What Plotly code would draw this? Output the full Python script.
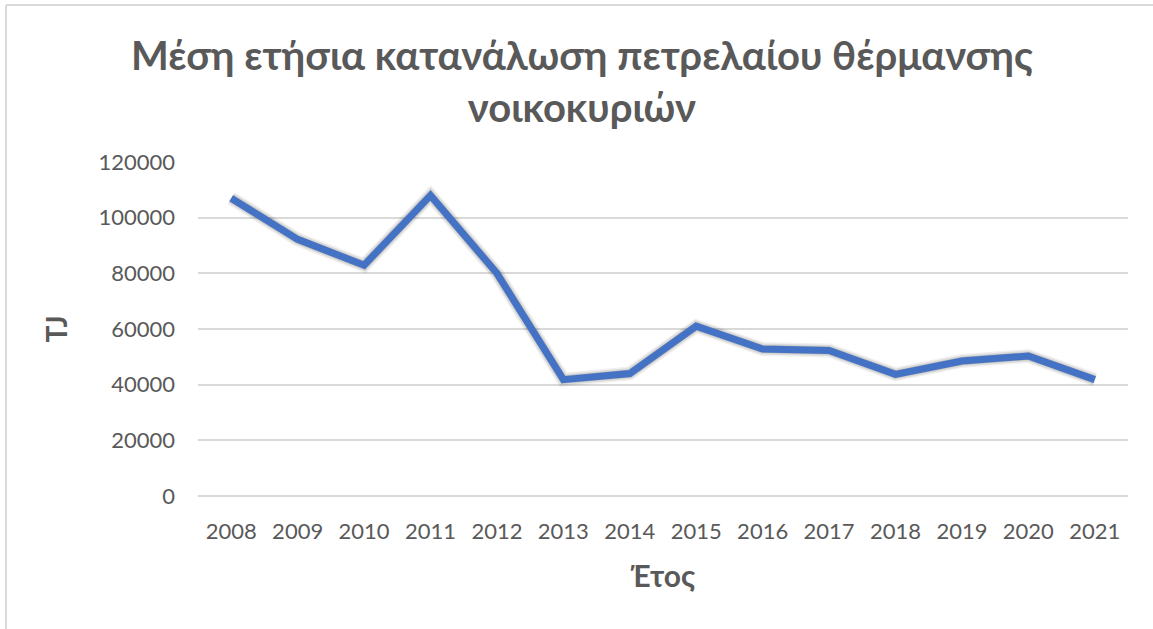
import plotly.graph_objects as go

# Average annual household heating-oil consumption (TJ)
years = ["2008", "2009", "2010", "2011", "2012", "2013", "2014",
         "2015", "2016", "2017", "2018", "2019", "2020", "2021"]
consumption_tj = [107000, 92200, 82900, 108000, 80000, 41800, 44000,
                  61000, 52800, 52300, 43700, 48500, 50300, 41800]
y_ticks = [0, 20000, 40000, 60000, 80000, 100000, 120000]

W, H = 1153, 629
# visible plot box in pixels
BOX_L, BOX_R, BOX_T, BOX_B = 198, 1128, 162, 496
SH_X, SH_Y = 2, 3  # shadow offset (px)

L, T = BOX_L, BOX_T
R = W - BOX_R - SH_X
B = H - BOX_B - SH_Y
PW, PH = W - L - R, H - T - B

LINE_COLOR = "#4472C4"
GRID_COLOR = "#D9D9D9"
TEXT_COLOR = "#595959"
FONT = "Lato, 'Noto Sans', sans-serif"

main_xdom = [0, (BOX_R - BOX_L) / PW]
main_ydom = [SH_Y / PH, 1]
shadow_xdom = [SH_X / PW, 1]
shadow_ydom = [0, 1 - SH_Y / PH]

fig = go.Figure()

# invisible trace anchoring the base axes (ticks and grid live here)
fig.add_trace(go.Scatter(
    x=years, y=consumption_tj, mode="lines",
    line=dict(color="rgba(0,0,0,0)", width=0),
    hoverinfo="skip", showlegend=False,
))

# soft drop shadow under the series, on an offset overlay axis
for w, a in [(14, 0.06), (11, 0.09), (8, 0.14)]:
    fig.add_trace(go.Scatter(
        x=years, y=consumption_tj, mode="lines",
        line=dict(color=f"rgba(0,0,0,{a})", width=w),
        xaxis="x2", yaxis="y2", hoverinfo="skip", showlegend=False,
    ))

# main series on an overlay that shares the visible axes' domain
fig.add_trace(go.Scatter(
    x=years, y=consumption_tj, mode="lines",
    line=dict(color=LINE_COLOR, width=7),
    xaxis="x3", yaxis="y3", showlegend=False,
))

cat_range = [-0.5, len(years) - 0.5]

def px_to_paper_x(px):
    return (px - L) / PW

def px_to_paper_y(py):
    return (H - B - py) / PH

fig.update_layout(
    width=W, height=H,
    margin=dict(l=L, r=R, t=T, b=B),
    paper_bgcolor="white", plot_bgcolor="white",
    font=dict(family=FONT, color=TEXT_COLOR, size=22),
    xaxis=dict(
        type="category", categoryarray=years, range=cat_range, domain=main_xdom,
        showgrid=False, showline=False, zeroline=False, ticks="",
        ticklabelstandoff=20,
        tickfont=dict(size=22, color=TEXT_COLOR),
        title=dict(text="<b>Έτος</b>", font=dict(size=30, color=TEXT_COLOR), standoff=22),
    ),
    yaxis=dict(
        range=[0, 120000], domain=main_ydom,
        tickvals=y_ticks, ticktext=[str(v) for v in y_ticks],
        showgrid=True, gridcolor=GRID_COLOR, gridwidth=1.5,
        zeroline=True, zerolinecolor=GRID_COLOR, zerolinewidth=1.5,
        showline=False, ticks="", ticklabelstandoff=22,
        tickfont=dict(size=22, color=TEXT_COLOR),
        title=dict(text="<b>TJ</b>", font=dict(size=28, color=TEXT_COLOR), standoff=22),
    ),
    xaxis2=dict(type="category", categoryarray=years, range=cat_range,
                domain=shadow_xdom, overlaying="x", visible=False),
    yaxis2=dict(range=[0, 120000], domain=shadow_ydom, overlaying="y", visible=False),
    xaxis3=dict(type="category", categoryarray=years, range=cat_range,
                domain=main_xdom, overlaying="x", visible=False),
    yaxis3=dict(range=[0, 120000], domain=main_ydom, overlaying="y", visible=False),
    annotations=[
        dict(text="<b>Μέση ετήσια κατανάλωση πετρελαίου θέρμανσης<br>νοικοκυριών</b>",
             xref="paper", yref="paper", x=px_to_paper_x(582), y=px_to_paper_y(81),
             xanchor="center", yanchor="middle", showarrow=False, align="center",
             font=dict(family=FONT, size=40, color=TEXT_COLOR)),
    ],
    shapes=[
        # chart-area border (top and left edges)
        dict(type="line", xref="paper", yref="paper",
             x0=px_to_paper_x(6), x1=px_to_paper_x(W), y0=px_to_paper_y(5), y1=px_to_paper_y(5),
             line=dict(color=GRID_COLOR, width=2)),
        dict(type="line", xref="paper", yref="paper",
             x0=px_to_paper_x(6), x1=px_to_paper_x(6), y0=px_to_paper_y(5), y1=px_to_paper_y(H),
             line=dict(color=GRID_COLOR, width=2)),
    ],
)

fig.write_html("out.html")
